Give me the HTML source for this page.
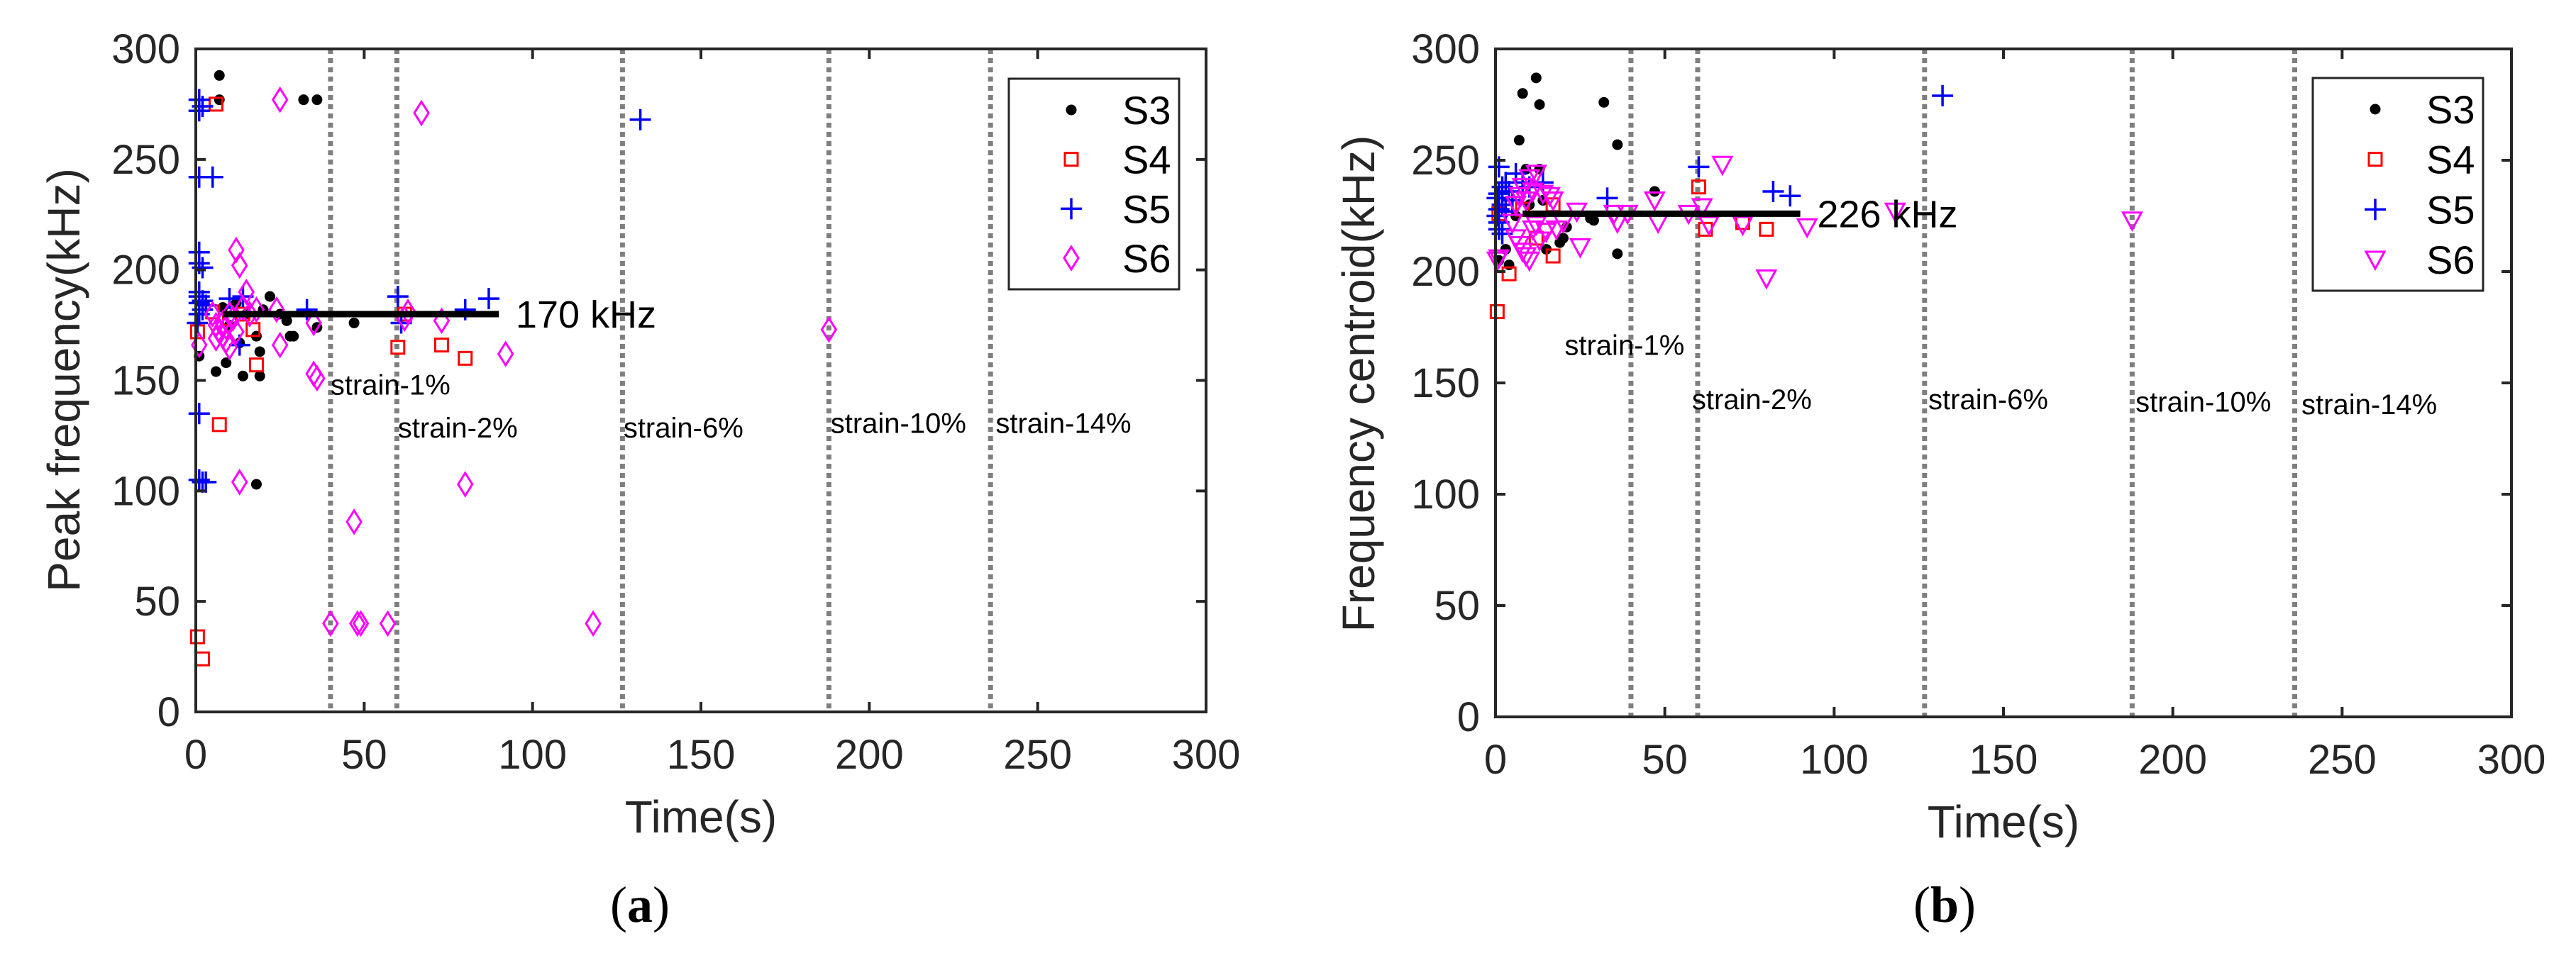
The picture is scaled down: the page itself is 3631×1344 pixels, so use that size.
<!DOCTYPE html>
<html><head><meta charset="utf-8"><style>
html,body{margin:0;padding:0;background:#fff;}
svg{display:block;font-family:"Liberation Sans",Arial,sans-serif;}
</style></head><body>
<svg id="fig" width="3631" height="1344" viewBox="0 0 3631 1344" xmlns="http://www.w3.org/2000/svg"></svg>
<script>
const xTicks=[0,50,100,150,200,250,300];
const yTicks=[0,50,100,150,200,250,300];
const strainNames=["strain-1%","strain-2%","strain-6%","strain-10%","strain-14%"];
const strainTimes=[40,59.7,126.7,188,236];
const seriesNames=["S3","S4","S5","S6"];
// Panel (a) peak frequency
const aS3=[[7,288],[7,277],[32,277],[36,277],[12,185],[22,188],[27,177],[28,170],[29,170],[36,174],[47,176],[6,154],[9,158],[14,152],[19,152],[19,163],[18,170],[1,161],[18,103],[13,167],[10,175],[15,180],[20,182],[25,180],[8,183]];
const aS4=[[6,275],[0.5,172],[7,130],[18,157],[17,173],[60,165],[73,166],[80,160],[62,180],[0.5,34],[2,24],[5,181],[10,178],[14,180]];
const aS5=[[1,277],[2,274],[1,272],[1,242],[5,242],[1,208],[1,203],[2,201],[1,190],[1,188],[2,186],[1,185],[3,184],[2,182],[1,180],[0.5,176],[1,135],[1,105],[2,104],[3,104],[10,187],[14,188],[33,182],[60,188],[80,182],[87,187],[132,268],[13,166],[61,176]];
const aS6=[[25,277],[67,271],[12,209],[13,202],[15,190],[24,182],[35,176],[25,166],[35,153],[36,151],[73,177],[62,178],[63,181],[92,162],[13,104],[80,103],[47,86],[40,40],[48,40],[49,40],[57,40],[118,40],[188,173],[1,166],[5,180],[6,175],[7,172],[8,170],[9,168],[10,165],[11,178],[12,172],[14,183],[16,180],[18,182],[8,176],[6,169],[9,174],[10,180]];
const aMean=[8,90,180];
// Panel (b) frequency centroid
const bS3=[[8,280],[12,287],[13,275],[32,276],[36,257],[7,259],[9,246],[13,246],[47,236],[28,224],[29,223],[36,208],[1,205],[3,210],[4,203],[15,210],[19,213],[20,215],[10,230],[14,232],[6,225],[21,220]];
const bS4=[[0.5,182],[4,199],[17,207],[60,238],[62,219],[80,219],[73,222],[1,226],[17,230],[8,228],[12,215]];
const bS5=[[1,247],[2,238],[1,235],[0.5,233],[2,230],[1,228],[0.5,225],[1,222],[1,219],[2,217],[3,240],[6,244],[8,240],[10,238],[14,240],[33,233],[60,247],[82,236],[87,234],[132,279],[4,236],[5,232],[3,227]];
const bS6=[[12,244],[10,242],[8,238],[7,234],[9,232],[11,236],[14,235],[16,234],[17,232],[24,227],[25,211],[35,226],[36,222],[39,226],[47,232],[48,222],[57,226],[61,229],[63,221],[67,248],[73,221],[80,197],[92,220],[118,227],[188,223],[0.5,205],[1,206],[6,215],[7,212],[8,209],[9,207],[10,205],[11,219],[12,221],[13,214],[15,218],[18,219],[20,222],[5,222],[6,230]];
const bMean=[8,90,226];

const NS="http://www.w3.org/2000/svg";
const svg=document.getElementById('fig');
function mk(tag,attrs,parent,text){const e=document.createElementNS(NS,tag);for(const k in attrs)e.setAttribute(k,attrs[k]);if(text!==undefined)e.textContent=text;(parent||svg).appendChild(e);return e;}
function marker(g,type,cx,cy){
  let e;
  if(type==='dot'){e=mk('circle',{cx,cy,r:7.5,fill:'#000'},g);}
  else if(type==='square'){e=mk('rect',{x:cx-9,y:cy-9,width:18,height:18,fill:'none',stroke:'#f00','stroke-width':3},g);}
  else if(type==='plus'){e=mk('path',{d:`M${cx-15} ${cy}H${cx+15}M${cx} ${cy-15}V${cy+15}`,stroke:'#00f','stroke-width':3.5,fill:'none'},g);}
  else if(type==='diamond'){e=mk('path',{d:`M${cx} ${cy-16}L${cx+10} ${cy}L${cx} ${cy+16}L${cx-10} ${cy}Z`,stroke:'#f0f','stroke-width':3,fill:'none'},g);}
  else {e=mk('path',{d:`M${cx-13} ${cy-11}H${cx+13}L${cx} ${cy+13}Z`,stroke:'#f0f','stroke-width':3,fill:'none'},g);}
  return e;
}
function panel(cfg){
  const {L,R,T,B,id}=cfg;
  const g=mk('g',{});
  
  
  const X=v=>L+(R-L)*v/300, Y=v=>B-(B-T)*v/300;
  strainTimes.forEach((t,i)=>{
    const l=mk('line',{x1:X(t),x2:X(t),y1:T,y2:B,stroke:'#7f7f7f','stroke-width':7,'stroke-dasharray':'7 6'},g);
    
    
  });
  const types=['dot','square','plus',cfg.s6type];
  cfg.series.forEach((arr,si)=>{
    const sg=mk('g',{},g);
    
    
    arr.forEach(p=>{const m=marker(sg,types[si],X(p[0]),Y(p[1]));
      
      });
  });
  const ml=mk('line',{x1:X(cfg.mean[0]),x2:X(cfg.mean[1]),y1:Y(cfg.mean[2]),y2:Y(cfg.mean[2]),stroke:'#000','stroke-width':9},g);
  
  
  const mt=mk('text',{x:X(95),y:Y(cfg.mean[2])+19,'font-size':54,fill:'#000'},g,cfg.meanLabel);
  
  
  cfg.strainPos.forEach((p,i)=>{
    const t=mk('text',{x:X(p[0]),y:Y(p[1])+14,'font-size':40,fill:'#000'},g,strainNames[i]);
    
    
  });
  const box=mk('rect',{x:L,y:T,width:R-L,height:B-T,fill:'none',stroke:'#262626','stroke-width':4},g);
  
  
  xTicks.forEach(v=>{
    mk('path',{d:`M${X(v)} ${B}v-14M${X(v)} ${T}v14`,stroke:'#262626','stroke-width':4},g);
    const t=mk('text',{x:X(v),y:B+80,'font-size':58,'text-anchor':'middle',fill:'#262626'},g,v);
    
    
  });
  yTicks.forEach(v=>{
    mk('path',{d:`M${L} ${Y(v)}h14M${R} ${Y(v)}h-14`,stroke:'#262626','stroke-width':4},g);
    const t=mk('text',{x:L-22,y:Y(v)+20,'font-size':58,'text-anchor':'end',fill:'#262626'},g,v);
    
    
  });
  const xt=mk('text',{x:(L+R)/2,y:B+170,'font-size':64,'text-anchor':'middle',fill:'#262626'},g,'Time(s)');
  
  
  const yt=mk('text',{x:0,y:0,'font-size':64,'text-anchor':'middle',fill:'#262626',transform:`translate(${cfg.ylx},${cfg.yly}) rotate(-90)`},g,cfg.ylabel);
  
  
  const cap=mk('text',{x:cfg.capX,y:1300,'font-size':72,'text-anchor':'middle',fill:'#000','font-family':'Liberation Serif,serif'},g);
  
  
  mk('tspan',{},cap,'(');mk('tspan',{'font-weight':'bold'},cap,cfg.cap);mk('tspan',{},cap,')');
  const lg=mk('g',{},g);
  
  
  const lb=cfg.leg;
  mk('rect',{x:lb[0],y:lb[1],width:lb[2]-lb[0],height:lb[3]-lb[1],fill:'#fff',stroke:'#262626','stroke-width':3},lg);
  seriesNames.forEach((n,i)=>{
    const yy=lb[1]+44+i*(lb[3]-lb[1]-88)/3;
    const e=mk('g',{},lg);
    
    
    marker(e,types[i],lb[0]+88,yy);
    mk('text',{x:lb[0]+160,y:yy+20,'font-size':56,fill:'#000'},e,n);
  });
}
panel({id:'peak-frequency',L:276,R:1700,T:69,B:1004,series:[aS3,aS4,aS5,aS6],s6type:'diamond',mean:aMean,meanLabel:'170 kHz',
  strainPos:[[40,148],[60,128.6],[127,128.6],[188.5,130.8],[237.5,130.8]],ylabel:'Peak frequency(kHz)',ylx:112,yly:536,cap:'a',capX:902,
  leg:[1422,111,1662,408]});
panel({id:'frequency-centroid',L:2108,R:3540,T:69,B:1011,series:[bS3,bS4,bS5,bS6],s6type:'tri',mean:bMean,meanLabel:'226 kHz',
  strainPos:[[20.4,167],[58,142.6],[127.8,142.6],[189,141.5],[238,140.5]],ylabel:'Frequency centroid(kHz)',ylx:1937,yly:541,cap:'b',capX:2741,
  leg:[3260,110,3500,410]});
</script>
</body></html>
